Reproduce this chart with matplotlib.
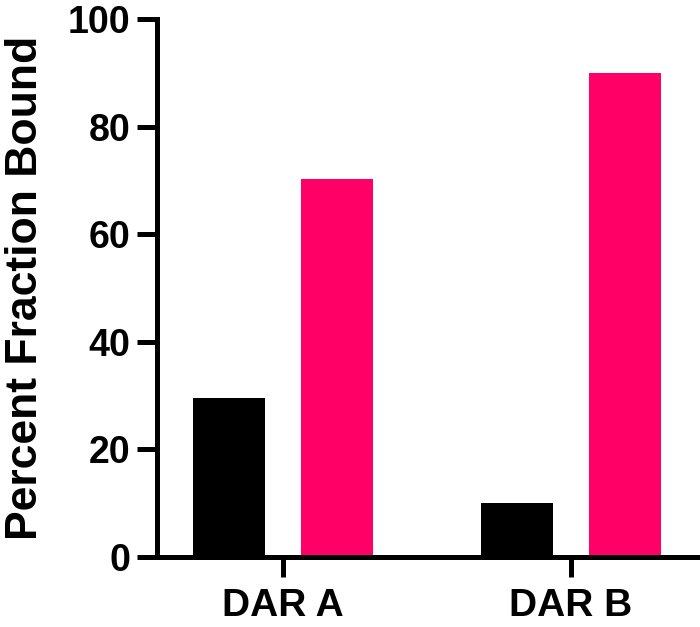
import numpy as np
import matplotlib.pyplot as plt

plt.rcParams['font.family'] = ['Liberation Sans', 'DejaVu Sans']
plt.rcParams['font.weight'] = 'bold'

groups = ['DAR A', 'DAR B']
black_vals = [29.5, 10]
pink_vals = [70.3, 90]
yticks = [0, 20, 40, 60, 80, 100]

fig = plt.figure(figsize=(7, 6.27), dpi=100)
ax = fig.add_axes([157/700, 70/627, 540/700, 538/627])

x = np.arange(len(groups))
w = 0.25
ax.bar(x - 0.1875, black_vals, width=w, color='black')
ax.bar(x + 0.1875, pink_vals, width=w, color='#FF0066')

ax.set_xlim(-0.4375, 1.4375)
ax.set_ylim(0, 100)
ax.set_yticks(yticks)
ax.set_xticks(x)
ax.set_xticklabels(groups)
ax.set_ylabel('Percent Fraction Bound', fontsize=32, fontweight='bold', labelpad=16)

for s in ['top', 'right']:
    ax.spines[s].set_visible(False)
for s in ['left', 'bottom']:
    ax.spines[s].set_linewidth(3.6)
ax.tick_params(width=3.6, length=14.5)
ax.tick_params(axis='x', labelsize=28, pad=8)
ax.tick_params(axis='y', labelsize=27, pad=4.5)
for lab in ax.get_xticklabels() + ax.get_yticklabels():
    lab.set_fontweight('bold')

fig.savefig('out.png', dpi=100)
